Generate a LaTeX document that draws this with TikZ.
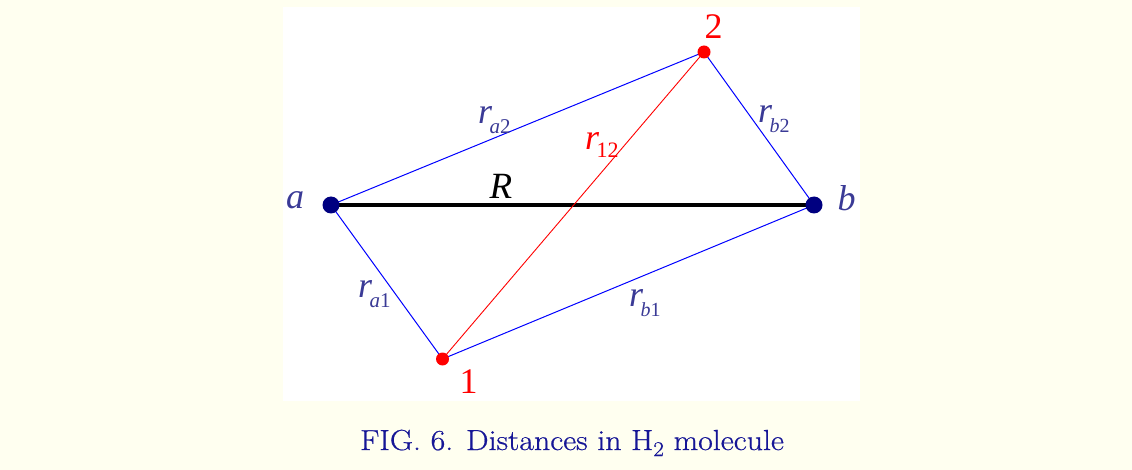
\documentclass[tikz,border=0pt]{standalone}
\usepackage{fontspec}
\newfontfamily\tms{Liberation Serif}
\newfontfamily\capfont[FakeBold=0.6]{Latin Modern Roman}
\definecolor{pagebg}{RGB}{255,255,240}
\definecolor{lblblue}{RGB}{58,58,150}
\definecolor{capblue}{RGB}{22,22,150}
\definecolor{nucl}{RGB}{0,0,128}
\pgfdeclarelayer{bglayer}
\pgfdeclarelayer{linelayer}
\pgfsetlayers{bglayer,linelayer,main}
\newcommand\rlab[3]{{\itshape r}\kern-2.5pt\raisebox{-#3pt}{\fontsize{#2}{#2}\selectfont #1}}
\tikzset{
  nucleus/.style={circle,fill=nucl,inner sep=0pt,minimum size=17pt},
  electron/.style={circle,fill=red,inner sep=0pt,minimum size=13pt},
  bigtxt/.style={inner sep=0pt,anchor=base,font=\tms\fontsize{36}{36}\selectfont},
  dist/.style={inner sep=0pt,anchor=base west,text=lblblue,font=\tms\fontsize{36}{36}\selectfont},
  bond/.style={line width=1pt,blue},
}
\begin{document}
\begin{tikzpicture}[x=1pt,y=-1pt]
\useasboundingbox (0,0) rectangle (1132,470);
\begin{pgfonlayer}{bglayer}
\fill[pagebg] (0,0) rectangle (1132,470);
\fill[white] (283,7) rectangle (860,401);
\end{pgfonlayer}
\node[nucleus] (a) at (331,205) {};
\node[nucleus] (b) at (814,205) {};
\node[electron] (e2) at (704,52) {};
\node[electron] (e1) at (442.5,359) {};
\begin{pgfonlayer}{linelayer}
\draw[line width=4.5pt,black] (a.center) -- (b.center);
\draw[bond] (a.center) -- (e2.center) -- (b.center) -- (e1.center) -- (a.center);
\draw[line width=0.9pt,red] (e1.center) -- (e2.center);
\end{pgfonlayer}
\node[bigtxt,text=lblblue] (la) at (295,209) {\itshape a};
\node[bigtxt,text=lblblue] (lb) at (846.5,211) {\itshape b};
\node[bigtxt,text=black] (lR) at (501,199) {\fontsize{37}{37}\selectfont\itshape R};
\node[bigtxt,text=red] (l2) at (713.5,39) {2};
\node[bigtxt,text=red] (l1) at (468.5,393) {1};
\node[dist] (ra2) at (478,124) {\rlab{\itshape a\upshape 2}{21}{10}};
\node[dist,text=red] (r12) at (585,150) {\rlab{12}{22}{8}};
\node[dist] (rb2) at (758,122.5) {\rlab{\itshape b\upshape 2}{20}{10}};
\node[dist] (ra1) at (358,297.5) {\rlab{\itshape a\upshape 1}{21}{10}};
\node[dist] (rb1) at (629,306) {\rlab{\itshape b\upshape 1}{20}{10}};
\node[inner sep=0pt,anchor=base west,text=capblue,font=\capfont\fontsize{29}{29}\selectfont] (cap) at (360,450) {\scalebox{1.1}[1]{FIG. 6. Distances in H\raisebox{-6pt}{\fontsize{21}{21}\selectfont 2} molecule}};
\end{tikzpicture}
\end{document}
